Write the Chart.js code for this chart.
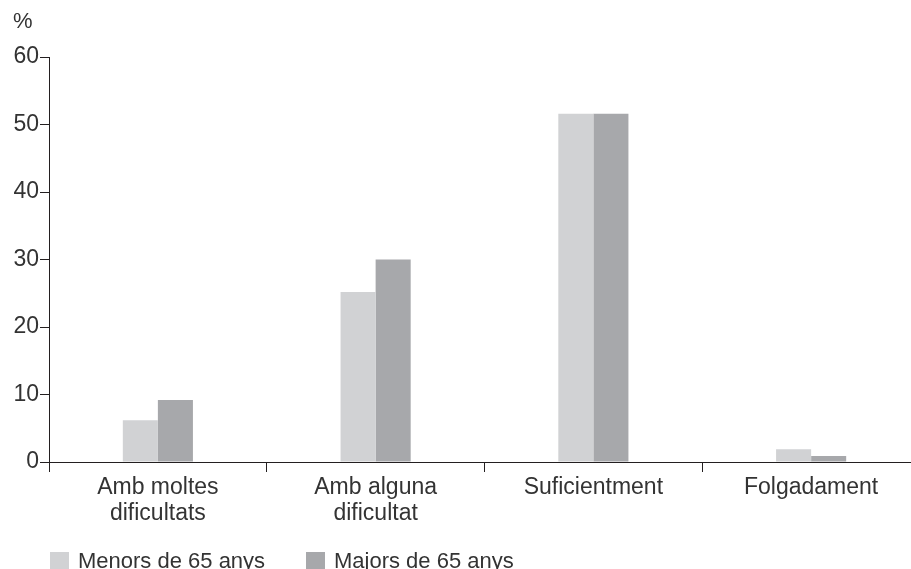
<!DOCTYPE html>
<html>
<head>
<meta charset="utf-8">
<script src="https://cdn.jsdelivr.net/npm/chart.js@4/dist/chart.umd.min.js"></script>
<style>
  html, body { margin: 0; padding: 0; background: #fff; overflow: hidden; }
  #wrap { position: relative; width: 925px; height: 569px; }
</style>
</head>
<body>
<div id="wrap"><canvas id="c" width="925" height="569"></canvas></div>
<script>
const categories = [
  ['Amb moltes', 'dificultats'],
  ['Amb alguna', 'dificultat'],
  'Suficientment',
  'Folgadament'
];
const seriesNames = ['Menors de 65 anys', 'Majors de 65 anys'];
const menors = [6.2, 25.2, 51.6, 1.9];
const majors = [9.2, 30.0, 51.6, 0.9];
const yTicks = [0, 10, 20, 30, 40, 50, 60];
const yUnit = '%';

const FONT = '"Liberation Sans", Arial, Helvetica, sans-serif';
const TEXT = '#333333';
const AXIS = '#231f20';

const extras = {
  id: 'extras',
  afterDraw(chart) {
    const ctx = chart.ctx;
    ctx.save();
    ctx.fillStyle = TEXT;
    ctx.font = '22px ' + FONT;
    ctx.textAlign = 'left';
    ctx.textBaseline = 'middle';
    ctx.fillText(yUnit, 13, 22);
    // legend
    const xs = [50, 306];
    chart.data.datasets.forEach((ds, i) => {
      ctx.fillStyle = ds.backgroundColor;
      ctx.fillRect(xs[i], 552, 19, 19);
      ctx.fillStyle = TEXT;
      ctx.fillText(ds.label, xs[i] + 28, 562);
    });
    ctx.restore();
  }
};

new Chart(document.getElementById('c'), {
  type: 'bar',
  data: {
    labels: categories,
    datasets: [
      { label: seriesNames[0], data: menors, backgroundColor: '#d1d2d4' },
      { label: seriesNames[1], data: majors, backgroundColor: '#a7a8ab' }
    ]
  },
  options: {
    responsive: false,
    animation: false,
    devicePixelRatio: 1,
    layout: { padding: { top: 57, right: 5, left: 0, bottom: 0 } },
    datasets: { bar: { categoryPercentage: 0.322, barPercentage: 1.0 } },
    plugins: { legend: { display: false }, tooltip: { enabled: false } },
    scales: {
      x: {
        grid: { display: true, offset: true, drawOnChartArea: false, tickLength: 10, color: AXIS, lineWidth: 1 },
        border: { display: true, color: AXIS, width: 1 },
        ticks: { color: TEXT, font: { family: FONT, size: 23, lineHeight: 1.13 }, padding: 3, maxRotation: 0, autoSkip: false },
        afterFit(scale) { scale.height = 569 - 462; }
      },
      y: {
        min: 0, max: 60,
        afterBuildTicks(scale) { scale.ticks = yTicks.map(v => ({ value: v })); },
        grid: { display: true, drawOnChartArea: false, tickLength: 9, color: AXIS, lineWidth: 1 },
        border: { display: true, color: AXIS, width: 1 },
        ticks: { color: TEXT, font: { family: FONT, size: 23 }, padding: 1 },
        afterFit(scale) { scale.width = 49; }
      }
    }
  },
  plugins: [extras]
});
</script>
</body>
</html>
